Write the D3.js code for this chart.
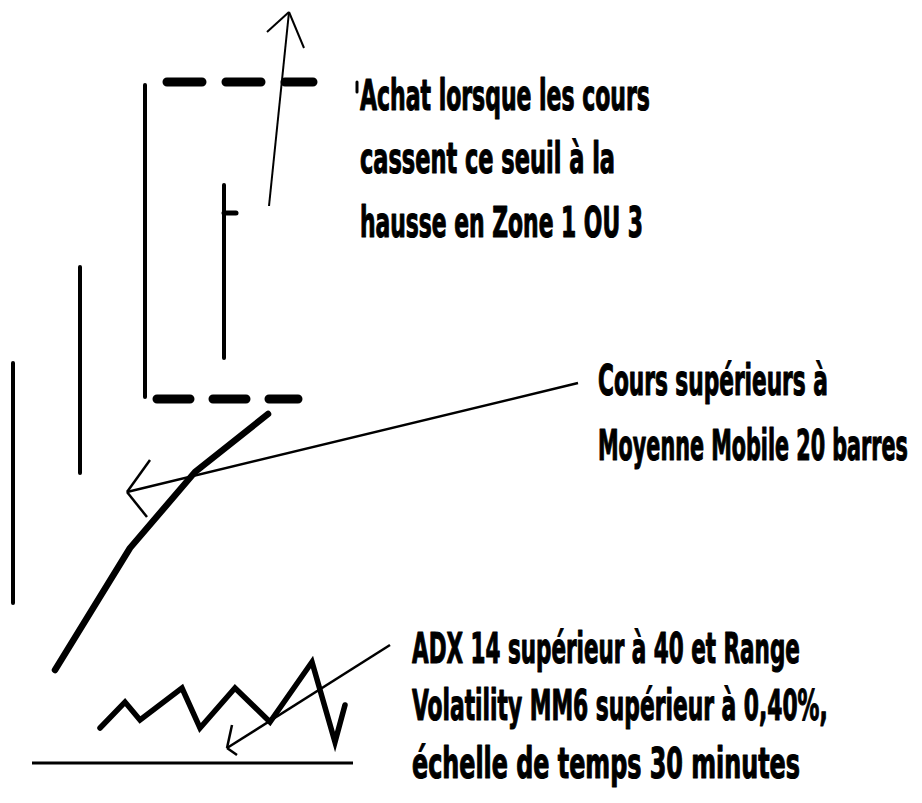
<!DOCTYPE html>
<html>
<head>
<meta charset="utf-8">
<script src="https://cdn.jsdelivr.net/npm/d3@7"></script>
<style>
  html, body { margin: 0; padding: 0; background: #fff; }
  svg { display: block; }
  text { font-family: "Liberation Sans Narrow", "Arial Narrow", "DejaVu Sans Condensed", sans-serif; font-weight: bold; fill: #000; stroke: #000; stroke-width: 1.1px; stroke-linejoin: round; }
</style>
</head>
<body>
<script>
// ---- data (time index, price level) ----
const bars = [
  { t: 13,  low: 200, high: 440 },
  { t: 80,  low: 330, high: 536 },
  { t: 145, low: 406, high: 718 },
  { t: 224, low: 445, high: 618, close: 590 }
];
const resistance = { level: 721, from: 167, to: 313 };
const support    = { level: 404, from: 157, to: 298 };
const movingAverage = [[55, 133], [130, 255], [195, 331], [268, 389]];
const adxRange = [[100, 75], [125, 101], [140, 83], [182, 115], [200, 75], [235, 115], [270, 81], [312, 141], [335, 61], [345, 98]];
const baseLevel = { level: 40, from: 32, to: 353 };
const breakoutArrow = { from: [269, 597], to: [289, 791], barbs: [[267, 771], [304, 755]] };
const maArrow  = { from: [578, 420], to: [127, 311], barbs: [[150, 343], [147, 286]] };
const adxArrow = { from: [390, 158], to: [227, 55],  barbs: [[232, 78], [237, 48]] };
const labelAchat = ["Achat lorsque les cours", "cassent ce seuil à la", "hausse en Zone 1 OU 3"];
const labelMA    = ["Cours supérieurs à", "Moyenne Mobile 20 barres"];
const labelADX   = ["ADX 14 supérieur à 40 et Range", "Volatility MM6 supérieur à 0,40%,", "échelle de temps 30 minutes"];

const W = 922, H = 803;
const x = d3.scaleLinear().domain([0, W]).range([0, W]);
const y = d3.scaleLinear().domain([0, H]).range([H, 0]);

const svg = d3.select("body").append("svg").attr("width", W).attr("height", H);
const line = d3.line().x(d => x(d[0])).y(d => y(d[1]));

// price bars
svg.selectAll("line.bar").data(bars).enter().append("line")
  .attr("x1", d => x(d.t)).attr("x2", d => x(d.t))
  .attr("y1", d => y(d.low)).attr("y2", d => y(d.high))
  .attr("stroke", "#000").attr("stroke-width", 4).attr("stroke-linecap", "round");
svg.selectAll("line.close").data(bars.filter(d => d.close != null)).enter().append("line")
  .attr("x1", d => x(d.t)).attr("x2", d => x(d.t) + 12)
  .attr("y1", d => y(d.close)).attr("y2", d => y(d.close))
  .attr("stroke", "#000").attr("stroke-width", 5).attr("stroke-linecap", "round");

// threshold dashed lines
[[resistance, "35,24"], [support, "33,23"]].forEach(([s, dash]) => {
  svg.append("line")
    .attr("x1", x(s.from)).attr("x2", x(s.to))
    .attr("y1", y(s.level)).attr("y2", y(s.level))
    .attr("stroke", "#000").attr("stroke-width", 9)
    .attr("stroke-dasharray", dash).attr("stroke-linecap", "round");
});

// moving average
svg.append("path").attr("d", line(movingAverage))
  .attr("fill", "none").attr("stroke", "#000").attr("stroke-width", 6.5)
  .attr("stroke-linecap", "round").attr("stroke-linejoin", "round");

// ADX / range zigzag
svg.append("path").attr("d", line(adxRange))
  .attr("fill", "none").attr("stroke", "#000").attr("stroke-width", 5.5)
  .attr("stroke-linecap", "round").attr("stroke-linejoin", "miter");

// base line
svg.append("line")
  .attr("x1", x(baseLevel.from)).attr("x2", x(baseLevel.to))
  .attr("y1", y(baseLevel.level)).attr("y2", y(baseLevel.level))
  .attr("stroke", "#000").attr("stroke-width", 3);

// arrows
function arrow(a, w) {
  svg.append("path").attr("d", line([a.from, a.to]))
    .attr("fill", "none").attr("stroke", "#000").attr("stroke-width", w);
  a.barbs.forEach(b => {
    svg.append("path").attr("d", line([a.to, b]))
      .attr("fill", "none").attr("stroke", "#000").attr("stroke-width", w);
  });
}
arrow(breakoutArrow, 2);
arrow(maArrow, 2.5);
arrow(adxArrow, 2.5);

// small pen mark before the first label
svg.append("line").attr("x1", 357).attr("x2", 357).attr("y1", 82).attr("y2", 92)
  .attr("stroke", "#000").attr("stroke-width", 3).attr("stroke-linecap", "round");

// labels: natural text, horizontally scaled to the reference width
function label(lines, x0, baselines, widths) {
  lines.forEach((t, i) => {
    const g = svg.append("g");
    const tx = g.append("text").attr("x", 0).attr("y", 0)
      .attr("font-size", 40).text(t);
    const natural = tx.node().getComputedTextLength();
    const sx = widths[i] / natural;
    g.attr("transform", `translate(${x0},${baselines[i]}) scale(${sx},1.05)`);
  });
}
label(labelAchat, 360, [110, 173, 237], [290, 255, 283]);
label(labelMA, 598, [395, 460], [230, 310]);
label(labelADX, 412, [663, 720, 778], [388, 416, 388]);
</script>
</body>
</html>
